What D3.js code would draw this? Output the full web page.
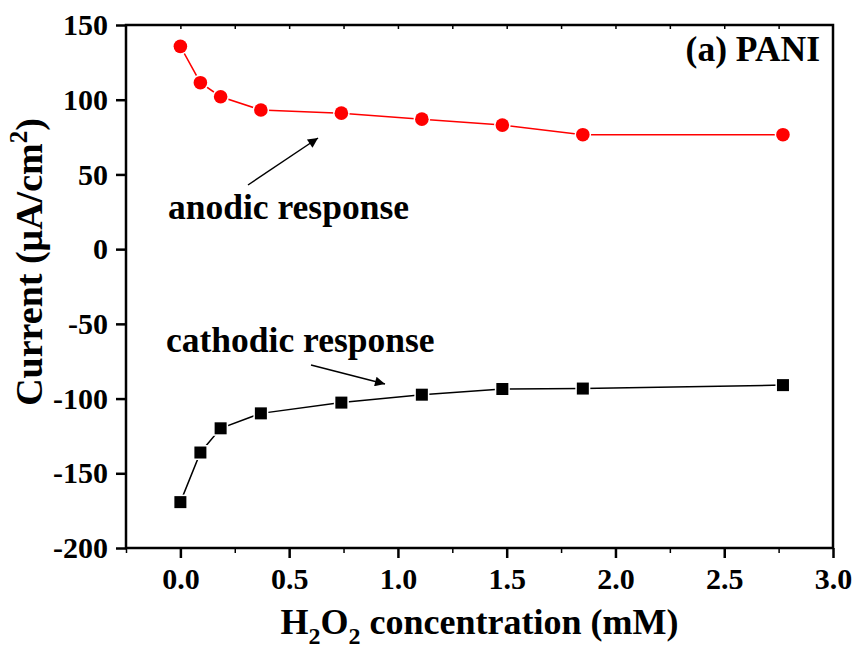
<!DOCTYPE html>
<html>
<head>
<meta charset="UTF-8">
<style>
body{
	margin: 0;
	background: #fff;
}
svg{
	font-family: "Liberation Serif", "Times New Roman", serif;
	font-weight: bold;
}
.frame{
	fill: none;
	stroke: #000;
	stroke-width: 2.5;
}
.axis path{
	display: none;
}
.axis line{
	stroke: #000;
	stroke-width: 2.5;
}
.axis text{
	font-size: 30px;
	font-family: "Liberation Serif", serif;
	font-weight: bold;
	fill: #000;
}
.minor line{
	stroke: #000;
	stroke-width: 1.5;
}
.minor text{
	display: none;
}
.title{
	font-size: 36px;
}
.note{
	font-size: 35.5px;
}
</style>
<script src="https://cdn.jsdelivr.net/npm/d3@7"></script>
</head>
<body>
<script>
// H2O2 concentration (mM)
var conc = [0, 0.092, 0.185, 0.37, 0.74, 1.11, 1.48, 1.85, 2.77];
// current density (uA/cm2)
var anodic = [135.7, 111.4, 102.0, 93.1, 91.0, 87.0, 83.0, 76.6, 76.6];
var cathodic = [-169.3, -136.1, -119.9, -109.9, -102.7, -97.4, -93.6, -93.3, -91.0];
var xTicks = [0, 0.5, 1.0, 1.5, 2.0, 2.5, 3.0];
var yTicks = [150, 100, 50, 0, -50, -100, -150, -200];

var margin = {top: 25, right: 23, bottom: 114, left: 126};
var W = 856, H = 662;
var width = W - margin.left - margin.right,
	height = H - margin.top - margin.bottom;

var x = d3.scaleLinear().domain([-0.25, 3.0]).range([0, width]);
var y = d3.scaleLinear().domain([-200, 150]).range([height, 0]);

var svg = d3.select("body").append("svg")
	.attr("width", W)
	.attr("height", H);

var g = svg.append("g")
	.attr("transform", "translate(" + margin.left + "," + margin.top + ")");

// arrow head
svg.append("defs").append("marker")
	.attr("id", "head")
	.attr("viewBox", "0 0 10 10")
	.attr("refX", 10).attr("refY", 5)
	.attr("markerWidth", 14).attr("markerHeight", 10)
	.attr("markerUnits", "userSpaceOnUse")
	.attr("orient", "auto")
	.append("path")
	.attr("d", "M0,0L10,5L0,10z")
	.attr("fill", "#000");

// axes
g.append("g")
	.attr("class", "axis")
	.attr("transform", "translate(0," + height + ")")
	.call(d3.axisBottom(x).tickValues(xTicks).tickFormat(d3.format(".1f")).tickSize(10).tickPadding(10));

g.append("g")
	.attr("class", "axis minor")
	.attr("transform", "translate(0," + height + ")")
	.call(d3.axisBottom(x).tickValues(d3.range(-0.25, 3.0, 0.5)).tickSize(5));

g.append("g")
	.attr("class", "axis minor")
	.call(d3.axisBottom(x).tickValues(d3.range(0, 3.0, 0.25)).tickSize(4));

g.append("g")
	.attr("class", "axis")
	.call(d3.axisLeft(y).tickValues(yTicks).tickSize(10).tickPadding(8)
		.tickFormat(function(d){ return String(d); }));

g.append("rect")
	.attr("class", "frame")
	.attr("width", width)
	.attr("height", height);

var pts = function(vals){
	return conc.map(function(c, i){ return [c, vals[i]]; });
};
var line = d3.line()
	.x(function(d){ return x(d[0]); })
	.y(function(d){ return y(d[1]); });

// anodic
g.append("path")
	.datum(pts(anodic))
	.attr("d", line)
	.attr("fill", "none")
	.attr("stroke", "#ff0000")
	.attr("stroke-width", 1.5);

g.selectAll(".dot")
	.data(pts(anodic))
	.enter().append("circle")
	.attr("class", "dot")
	.attr("cx", function(d){ return x(d[0]); })
	.attr("cy", function(d){ return y(d[1]); })
	.attr("r", 6.8)
	.attr("fill", "#ff0000")
	.attr("stroke", "#fff")
	.attr("stroke-width", 3)
	.attr("paint-order", "stroke");

// cathodic
g.append("path")
	.datum(pts(cathodic))
	.attr("d", line)
	.attr("fill", "none")
	.attr("stroke", "#000")
	.attr("stroke-width", 1.5);

g.selectAll(".sq")
	.data(pts(cathodic))
	.enter().append("rect")
	.attr("class", "sq")
	.attr("x", function(d){ return x(d[0]) - 6; })
	.attr("y", function(d){ return y(d[1]) - 6; })
	.attr("width", 12)
	.attr("height", 12)
	.attr("fill", "#000")
	.attr("stroke", "#fff")
	.attr("stroke-width", 3)
	.attr("paint-order", "stroke");

// annotations
g.append("line")
	.attr("x1", 248 - margin.left).attr("y1", 185 - margin.top)
	.attr("x2", 318 - margin.left).attr("y2", 138 - margin.top)
	.attr("stroke", "#000").attr("stroke-width", 1.5)
	.attr("marker-end", "url(#head)");

g.append("line")
	.attr("x1", 311 - margin.left).attr("y1", 365 - margin.top)
	.attr("x2", 385 - margin.left).attr("y2", 384 - margin.top)
	.attr("stroke", "#000").attr("stroke-width", 1.5)
	.attr("marker-end", "url(#head)");

svg.append("text")
	.attr("class", "note")
	.attr("x", 168).attr("y", 219)
	.text("anodic response");

svg.append("text")
	.attr("class", "note")
	.attr("x", 166).attr("y", 352)
	.text("cathodic response");

svg.append("text")
	.attr("class", "note")
	.attr("x", 820).attr("y", 61)
	.attr("text-anchor", "end")
	.text("(a) PANI");

// axis titles
var xt = svg.append("text")
	.attr("class", "title")
	.attr("x", margin.left + x(1.375)).attr("y", 634)
	.attr("text-anchor", "middle");
xt.append("tspan").text("H");
xt.append("tspan").attr("font-size", "24px").attr("dy", 10).text("2");
xt.append("tspan").attr("dy", -10).text("O");
xt.append("tspan").attr("font-size", "24px").attr("dy", 10).text("2");
xt.append("tspan").attr("dy", -10).text(" concentration (mM)");

var yt = svg.append("text")
	.attr("class", "title")
	.style("font-size", "38px")
	.attr("transform", "translate(42,262) rotate(-90)")
	.attr("text-anchor", "middle");
yt.append("tspan").text("Current (\u03bcA/cm");
yt.append("tspan").attr("font-size", "25px").attr("dy", -15).text("2");
yt.append("tspan").attr("dy", 15).text(")");
</script>
</body>
</html>
